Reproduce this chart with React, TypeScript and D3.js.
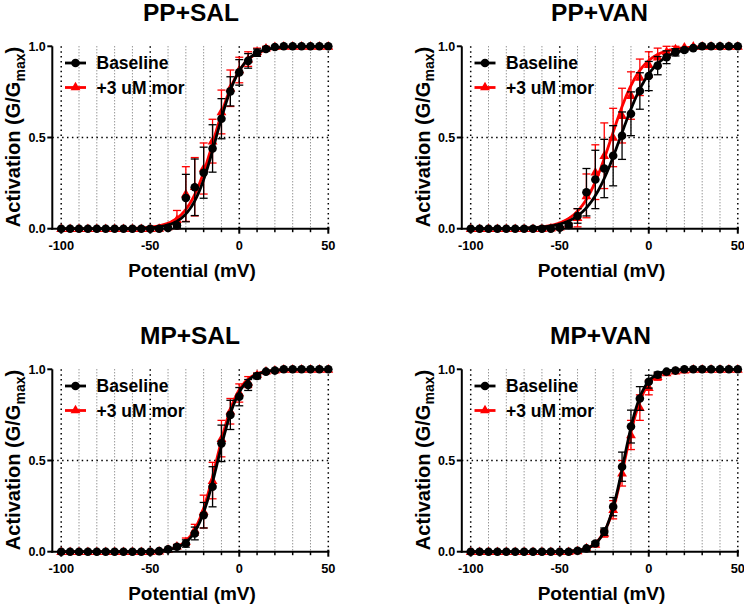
import React from "react";
import * as d3 from "d3";

// ---------- DATA ----------
const voltages = [-100, -95, -90, -85, -80, -75, -70, -65, -60, -55, -50, -45, -40, -35, -30, -25, -20, -15, -10, -5, 0, 5, 10, 15, 20, 25, 30, 35, 40, 45, 50];
const panelTitles = ["PP+SAL", "PP+VAN", "MP+SAL", "MP+VAN"];
const seriesNames = ["Baseline", "+3 uM mor"];
const xTicks = [-100, -50, 0, 50];
const yTicks = [0, 0.5, 1];

// PP+SAL
const ppSalBase = [0, 0, 0, 0, 0, 0, 0, 0, 0, 0, 0, 0, 0.004, 0.018, 0.168, 0.227, 0.307, 0.44, 0.603, 0.753, 0.857, 0.92, 0.965, 0.985, 0.996, 1, 1, 1, 1, 1, 1];
const ppSalBaseErr = [0, 0, 0, 0, 0, 0, 0, 0, 0, 0, 0, 0, 0.005, 0.01, 0.13, 0.155, 0.14, 0.13, 0.11, 0.08, 0.07, 0.04, 0.02, 0.01, 0, 0, 0, 0, 0, 0, 0];
const ppSalMor = [0, 0, 0, 0, 0, 0, 0, 0, 0, 0, 0, 0.002, 0.01, 0.05, 0.19, 0.23, 0.33, 0.48, 0.64, 0.77, 0.87, 0.93, 0.97, 0.99, 0.998, 1, 1, 1, 1, 1, 1];
const ppSalMorErr = [0, 0, 0, 0, 0, 0, 0, 0, 0, 0, 0, 0, 0.01, 0.05, 0.15, 0.16, 0.14, 0.12, 0.12, 0.1, 0.07, 0.04, 0.02, 0.01, 0, 0, 0, 0, 0, 0, 0];

// PP+VAN
const ppVanBase = [0, 0, 0, 0, 0, 0, 0, 0, 0, 0, 0.005, 0.02, 0.07, 0.2, 0.27, 0.33, 0.4, 0.51, 0.63, 0.755, 0.837, 0.894, 0.94, 0.967, 0.98, 0.99, 1, 1, 1, 1, 1];
const ppVanBaseErr = [0, 0, 0, 0, 0, 0, 0, 0, 0, 0, 0.005, 0.01, 0.04, 0.13, 0.16, 0.16, 0.165, 0.13, 0.12, 0.1, 0.08, 0.05, 0.035, 0.02, 0.01, 0, 0, 0, 0, 0, 0];
const ppVanMor = [0, 0, 0, 0, 0, 0, 0, 0, 0, 0.003, 0.008, 0.02, 0.06, 0.18, 0.31, 0.4, 0.5, 0.62, 0.73, 0.83, 0.9, 0.94, 0.97, 0.985, 0.995, 1, 1, 1, 1, 1, 1];
const ppVanMorErr = [0, 0, 0, 0, 0, 0, 0, 0, 0, 0, 0.005, 0.01, 0.05, 0.12, 0.15, 0.18, 0.16, 0.15, 0.13, 0.1, 0.07, 0.05, 0.03, 0.015, 0, 0, 0, 0, 0, 0, 0];

// MP+SAL
const mpSalBase = [0, 0, 0, 0, 0, 0, 0, 0, 0, 0, 0, 0.003, 0.013, 0.027, 0.045, 0.1, 0.2, 0.356, 0.594, 0.75, 0.85, 0.914, 0.963, 0.987, 0.993, 1, 1, 1, 1, 1, 1];
const mpSalBaseErr = [0, 0, 0, 0, 0, 0, 0, 0, 0, 0, 0, 0, 0, 0.01, 0.02, 0.035, 0.07, 0.11, 0.1, 0.08, 0.05, 0.03, 0.015, 0, 0, 0, 0, 0, 0, 0, 0];
const mpSalMor = [0, 0, 0, 0, 0, 0, 0, 0, 0, 0, 0, 0.003, 0.012, 0.03, 0.055, 0.12, 0.22, 0.39, 0.62, 0.77, 0.87, 0.93, 0.97, 0.99, 0.995, 1, 1, 1, 1, 1, 1];
const mpSalMorErr = [0, 0, 0, 0, 0, 0, 0, 0, 0, 0, 0, 0, 0, 0.01, 0.02, 0.03, 0.09, 0.1, 0.1, 0.07, 0.05, 0.03, 0.01, 0, 0, 0, 0, 0, 0, 0, 0];

// MP+VAN
const mpVanBase = [0, 0, 0, 0, 0, 0, 0, 0, 0, 0, 0, 0, 0.005, 0.018, 0.045, 0.11, 0.247, 0.466, 0.686, 0.84, 0.932, 0.97, 0.987, 0.993, 1, 1, 1, 1, 1, 1, 1];
const mpVanBaseErr = [0, 0, 0, 0, 0, 0, 0, 0, 0, 0, 0, 0, 0, 0, 0.01, 0.02, 0.05, 0.08, 0.09, 0.065, 0.035, 0.015, 0, 0, 0, 0, 0, 0, 0, 0, 0];
const mpVanMor = [0, 0, 0, 0, 0, 0, 0, 0, 0, 0, 0, 0, 0.005, 0.02, 0.04, 0.1, 0.23, 0.43, 0.64, 0.79, 0.9, 0.96, 0.98, 0.99, 0.995, 1, 1, 1, 1, 1, 1];
const mpVanMorErr = [0, 0, 0, 0, 0, 0, 0, 0, 0, 0, 0, 0, 0, 0, 0, 0.02, 0.05, 0.07, 0.08, 0.07, 0.04, 0.02, 0, 0, 0, 0, 0, 0, 0, 0, 0];

// Boltzmann fit parameters (V1/2 in mV, slope k in mV)
const baseVHalf = [-13, -16, -12, -14];
const baseSlope = [7, 9.3, 6.2, 5.25];
const morVHalf = [-14, -21, -12.8, -13.5];
const morSlope = [7.5, 8.5, 6.2, 5.5];

const baseValues = [ppSalBase, ppVanBase, mpSalBase, mpVanBase];
const baseErrors = [ppSalBaseErr, ppVanBaseErr, mpSalBaseErr, mpVanBaseErr];
const morValues = [ppSalMor, ppVanMor, mpSalMor, mpVanMor];
const morErrors = [ppSalMorErr, ppVanMorErr, mpSalMorErr, mpVanMorErr];

// ---------- LAYOUT ----------
const W = 744;
const H = 607;
const FONT = "'Liberation Sans', Arial, Helvetica, sans-serif";
const panelOffsets = [
  [0, 0],
  [409.5, 0],
  [0, 323],
  [409.5, 323],
];
const titleCenters = [191, 190, 190, 191];
const plotLeft = 52.3;
const plotRight = 328.3;
const plotTop = 46.3;
const plotBottom = 228.7;

const fitV = d3.range(-100, 50.01, 0.5);

function Panel({ idx }: { idx: number }) {
  const [ox, oy] = panelOffsets[idx];
  const x = d3.scaleLinear().domain([-105, 50]).range([plotLeft, plotRight]);
  const y = d3.scaleLinear().domain([0, 1]).range([plotBottom, plotTop]);
  const minorX = d3.range(-90, 50, 10).filter((v) => v % 50 !== 0);
  const line = d3
    .line<number[]>()
    .x((d) => x(d[0]))
    .y((d) => y(d[1]));
  const boltz = (vh: number, k: number) => fitV.map((v) => [v, 1 / (1 + Math.exp((vh - v) / k))]);
  const baseCurve = boltz(baseVHalf[idx], baseSlope[idx]);
  const morCurve = boltz(morVHalf[idx], morSlope[idx]);
  const tri = d3.symbol().type(d3.symbolTriangle).size(42)();

  const errBars = (vals: number[], errs: number[], color: string) =>
    voltages.map((v, i) =>
      errs[i] > 0 ? (
        <g key={i} stroke={color} strokeWidth={1.3}>
          <line x1={x(v)} x2={x(v)} y1={y(vals[i] + errs[i])} y2={y(vals[i] - errs[i])} />
          <line x1={x(v) - 4} x2={x(v) + 4} y1={y(vals[i] + errs[i])} y2={y(vals[i] + errs[i])} />
          <line x1={x(v) - 4} x2={x(v) + 4} y1={y(vals[i] - errs[i])} y2={y(vals[i] - errs[i])} />
        </g>
      ) : null
    );

  return (
    <g transform={`translate(${ox},${oy})`}>
      {/* grid */}
      {minorX.map((v) => (
        <line key={"mg" + v} x1={x(v)} x2={x(v)} y1={y(1)} y2={y(0)} stroke="#444" strokeWidth={0.8} strokeDasharray="1,2" />
      ))}
      {xTicks.map((v) => (
        <line key={"Mg" + v} x1={x(v)} x2={x(v)} y1={y(1)} y2={y(0)} stroke="#000" strokeWidth={1.5} strokeDasharray="1.5,3.4" />
      ))}
      <line x1={plotLeft} x2={plotRight} y1={y(0.5)} y2={y(0.5)} stroke="#000" strokeWidth={1.5} strokeDasharray="1.5,3.4" />

      {/* mor series */}
      {errBars(morValues[idx], morErrors[idx], "#ff0000")}
      <path d={line(morCurve as any) || ""} fill="none" stroke="#ff0000" strokeWidth={2.8} />
      {voltages.map((v, i) => (
        <path key={"t" + i} d={tri || ""} transform={`translate(${x(v)},${y(morValues[idx][i]) + 0.5})`} fill="#ff0000" />
      ))}

      {/* baseline series */}
      {errBars(baseValues[idx], baseErrors[idx], "#000")}
      <path d={line(baseCurve as any) || ""} fill="none" stroke="#000" strokeWidth={2.8} />
      {voltages.map((v, i) => (
        <circle key={"c" + i} cx={x(v)} cy={y(baseValues[idx][i])} r={4.3} fill="#000" />
      ))}

      {/* axes */}
      <line x1={plotLeft} x2={plotLeft} y1={plotTop} y2={plotBottom + 1} stroke="#000" strokeWidth={2} />
      <line x1={plotLeft - 1} x2={plotRight + 1} y1={plotBottom} y2={plotBottom} stroke="#000" strokeWidth={2} />
      {yTicks.map((t) => (
        <g key={"yt" + t}>
          <line x1={plotLeft - 5} x2={plotLeft} y1={y(t)} y2={y(t)} stroke="#000" strokeWidth={2} />
          <text x={plotLeft - 6.5} y={y(t) + 4.5} textAnchor="end" fontSize={12.5} fontWeight="bold" fontFamily={FONT}>
            {d3.format(".1f")(t)}
          </text>
        </g>
      ))}
      {minorX.map((v) => (
        <line key={"mt" + v} x1={x(v)} x2={x(v)} y1={plotBottom} y2={plotBottom + 3.5} stroke="#000" strokeWidth={1.5} />
      ))}
      {xTicks.map((t) => (
        <g key={"xt" + t}>
          <line x1={x(t)} x2={x(t)} y1={plotBottom - 2} y2={plotBottom + 5} stroke="#000" strokeWidth={2} />
          <text x={x(t)} y={plotBottom + 21.5} textAnchor="middle" fontSize={12.8} fontWeight="bold" fontFamily={FONT}>
            {t}
          </text>
        </g>
      ))}

      {/* titles */}
      <text x={titleCenters[idx]} y={21} textAnchor="middle" fontSize={24.5} fontWeight="bold" fontFamily={FONT}>
        {panelTitles[idx]}
      </text>
      <text x={192} y={277} textAnchor="middle" fontSize={19} fontWeight="bold" fontFamily={FONT}>
        Potential (mV)
      </text>
      <text
        transform={`translate(20,137) rotate(-90)`}
        textAnchor="middle"
        fontSize={20}
        fontWeight="bold"
        fontFamily={FONT}
      >
        Activation (G/G
        <tspan fontSize={14} dy={4.5}>max</tspan>
        <tspan dy={-4.5}>)</tspan>
      </text>

      {/* legend */}
      <line x1={65} x2={86} y1={63} y2={63} stroke="#000" strokeWidth={2.8} />
      <circle cx={75.5} cy={63} r={4.3} fill="#000" />
      <text x={96.5} y={69} fontSize={17.5} fontWeight="bold" fontFamily={FONT}>
        {seriesNames[0]}
      </text>
      <line x1={65} x2={86} y1={87.5} y2={87.5} stroke="#ff0000" strokeWidth={2.8} />
      <path d={tri || ""} transform={`translate(75.5,87.5)`} fill="#ff0000" />
      <text x={96.5} y={93.5} fontSize={17.5} fontWeight="bold" fontFamily={FONT}>
        {seriesNames[1]}
      </text>
    </g>
  );
}

export default function App() {
  return (
    <svg
      width={W}
      height={H}
      viewBox={`0 0 ${W} ${H}`}
      style={{ position: "absolute", left: 0, top: 0, background: "#fff" }}
    >
      <rect width={W} height={H} fill="#fff" />
      {[0, 1, 2, 3].map((i) => (
        <Panel key={i} idx={i} />
      ))}
    </svg>
  );
}
